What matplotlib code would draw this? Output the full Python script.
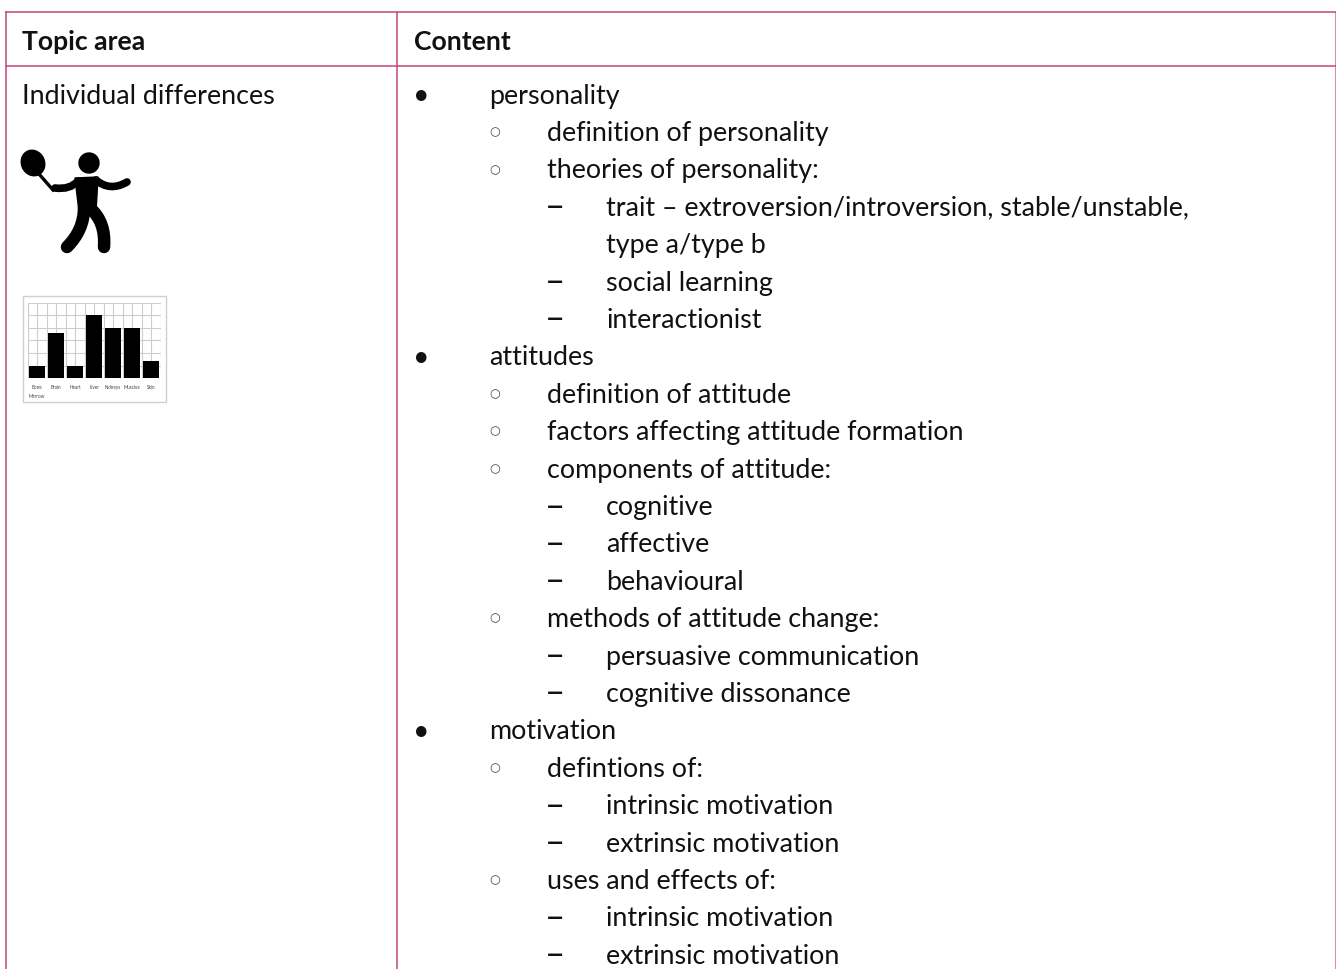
import matplotlib
matplotlib.use("Agg")
import matplotlib.pyplot as plt
from matplotlib.patches import Circle, Ellipse, PathPatch, Polygon, Rectangle
from matplotlib.path import Path

W, H = 1336, 969
LINE = "#c4457c"
FONT = "Lato"
FS = 19.4
INK = "#111111"

headers = ["Topic area", "Content"]
topic = "Individual differences"
rows = [
    (0, "personality"),
    (1, "definition of personality"),
    (1, "theories of personality:"),
    (2, "trait – extroversion/introversion, stable/unstable,"),
    (3, "type a/type b"),
    (2, "social learning"),
    (2, "interactionist"),
    (0, "attitudes"),
    (1, "definition of attitude"),
    (1, "factors affecting attitude formation"),
    (1, "components of attitude:"),
    (2, "cognitive"),
    (2, "affective"),
    (2, "behavioural"),
    (1, "methods of attitude change:"),
    (2, "persuasive communication"),
    (2, "cognitive dissonance"),
    (0, "motivation"),
    (1, "defintions of:"),
    (2, "intrinsic motivation"),
    (2, "extrinsic motivation"),
    (1, "uses and effects of:"),
    (2, "intrinsic motivation"),
    (2, "extrinsic motivation"),
]
organs = ["Bone\nMarrow", "Brain", "Heart", "Liver", "Kidneys", "Muscles", "Skin"]
organ_values = [1.0, 3.6, 1.0, 5.0, 4.0, 4.0, 1.4]

fig = plt.figure(figsize=(W / 100, H / 100), dpi=100, facecolor="white")
ax = fig.add_axes([0, 0, 1, 1])
ax.set_xlim(0, W)
ax.set_ylim(H, 0)
ax.axis("off")

# table rules
left, col, right, top, head = 5.7, 397, 1335.4, 11.5, 65.5
ax.plot([left, W], [top, top], color=LINE, lw=1.1)
ax.plot([left, W], [head, head], color=LINE, lw=1.1)
ax.plot([left, left], [top, H], color=LINE, lw=1.1)
ax.plot([col, col], [top, H], color=LINE, lw=1.1)
ax.plot([right, right], [top, H], color=LINE, lw=0.8, alpha=0.6)

# text
kw = dict(family=FONT, fontsize=FS, va="baseline", color=INK)
ax.text(22, 49.5, headers[0], fontweight="bold", fontsize=FS - 0.3, family=FONT, va="baseline", color=INK)
ax.text(414, 49.5, headers[1], fontweight="bold", fontsize=FS - 0.3, family=FONT, va="baseline", color=INK)
ax.text(22, 103.6, topic, **kw)

text_x = {0: 489, 1: 547, 2: 606, 3: 606}
y0, dy = 103.6, 37.4
for i, (lvl, s) in enumerate(rows):
    y = y0 + i * dy
    ax.text(text_x[lvl], y, s, **kw)
    if lvl == 0:
        ax.text(421, y - 10, "•", family=[FONT, "DejaVu Sans"], fontsize=FS * 1.05, va="center_baseline",
                ha="center", color=INK)
    elif lvl == 1:
        ax.text(495, y - 10.5, "○", family=["DejaVu Sans"], fontsize=FS * 0.46, va="center_baseline",
                ha="center", color="#444444")
    elif lvl == 2:
        ax.text(554.5, y - 11.5, "–", family=FONT, fontsize=FS * 1.3, va="center_baseline", ha="center", color=INK)


def stroke(points, lw):
    codes = [Path.MOVETO] + [Path.CURVE3] * (len(points) - 1)
    ax.add_patch(PathPatch(Path(points, codes), fc="none", ec="black", lw=lw, capstyle="round", zorder=3))


# player icon
ax.add_patch(Ellipse((33, 163), 23, 26, angle=-25, color="black", zorder=3))
ax.add_patch(Circle((89, 163), 10, color="black", zorder=3))
ax.plot([39, 53], [174, 190], color="black", lw=2.4, zorder=3)
stroke([(78, 181), (70, 190), (55, 188)], 5.5)
stroke([(96, 180), (110, 192), (127, 182)], 5.5)
ax.add_patch(Polygon([(75, 178), (98, 177), (96, 212), (79, 212)], closed=True, color="black", zorder=3))
stroke([(84, 208), (84, 230), (67, 247)], 9)
stroke([(90, 208), (106, 222), (104, 247)], 9)

# inset bar chart
ax.add_patch(Rectangle((22.7, 296.3), 143.3, 105.4, fc="white", ec="#cfcfcf", lw=1))
inset = fig.add_axes([27.7 / W, 1 - 378.3 / H, 133 / W, 75.6 / H])
inset.set_xlim(-0.5, 6.5)
inset.set_ylim(0, 6)
inset.bar(range(len(organs)), organ_values, width=0.86, color="black", zorder=3)
inset.set_yticks(range(7))
inset.set_xticks([i / 2 - 0.5 for i in range(15)])
inset.grid(True, color="#cccccc", lw=0.8)
inset.tick_params(length=0, labelleft=False, labelbottom=False)
for s in inset.spines.values():
    s.set_visible(False)
for i, name in enumerate(organs):
    inset.annotate(name, (i, 0), xytext=(0, -4.5), textcoords="offset points", ha="center", va="top",
                   fontsize=3.3, family=FONT, color="#444444", linespacing=2.0)

fig.savefig("out.png", dpi=100)
